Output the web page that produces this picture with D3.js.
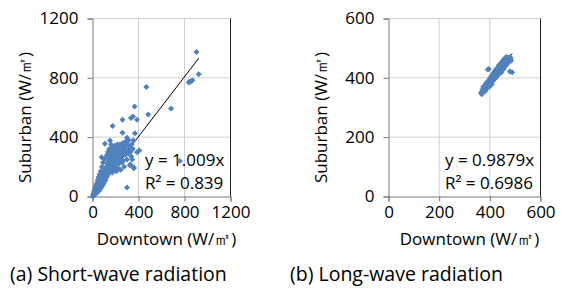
<!DOCTYPE html>
<html>
<head>
<meta charset="utf-8">
<script src="https://cdn.jsdelivr.net/npm/d3@7"></script>
<style>
  body { margin: 0; background: #fff; }
  text { font-family: "Open Sans", "Noto Sans", sans-serif; fill: #000; }
</style>
</head>
<body>
<svg id="chart" width="568" height="298"></svg>
<script>
// Short-wave radiation: [downtown, suburban] in W/m2
const shortWavePoints = [
  [2,0],[5,10],[8,4],[10,20],[12,30],[15,8],[18,45],[20,15],[22,60],[25,30],[28,20],[30,75],
  [32,50],[35,35],[38,90],[40,25],[42,65],[45,110],[48,45],[50,80],[52,130],[55,60],[58,95],
  [60,40],[62,150],[65,75],[68,115],[70,55],[72,170],[75,90],[78,135],[79,265],[80,65],[82,200],
  [85,105],[88,150],[90,80],[92,230],[95,120],[98,170],[100,95],[102,250],[105,140],[108,355],
  [110,185],[112,110],[115,260],[118,160],[120,200],[122,130],[125,280],[128,175],[130,220],
  [132,145],[135,300],[138,190],[140,240],[142,160],[145,320],[148,205],[150,260],[152,378],
  [155,180],[158,230],[160,280],[162,350],[165,200],[168,300],[170,245],[172,160],[175,330],
  [175,476],[178,260],[180,215],[182,180],[185,310],[188,270],[190,230],[192,340],[195,200],
  [198,290],[200,250],[205,320],[208,170],[210,280],[212,230],[215,350],[218,300],[220,190],
  [225,260],[228,330],[230,220],[235,300],[238,350],[240,250],[245,180],[248,320],[250,280],
  [255,340],[258,230],[261,429],[261,517],[262,300],[265,360],[268,243],[272,320],[275,200],
  [280,340],[285,280],[290,370],[295,310],[300,250],[300,396],[300,60],[305,350],[310,290],
  [315,380],[320,330],[325,210],[329,216],[330,300],[334,530],[337,270],[340,350],[345,250],
  [350,320],[352,539],[355,380],[358,198],[360,191],[366,607],[369,427],[387,299],[387,517],
  [407,310],[468,739],[485,553],[683,593],[760,240],[837,770],[845,772],[852,776],[869,783],
  [904,975],[924,825]
];

// Long-wave radiation: [downtown, suburban] in W/m2
const longWavePoints = [
  [365,350],[368,345],[370,360],[372,352],[374,370],[376,358],[378,365],[380,372],[382,355],
  [384,380],[385,368],[387,362],[388,385],[390,375],[392,428],[393,370],[395,390],[396,430],
  [397,380],[399,395],[400,372],[402,400],[403,385],[405,392],[406,405],[408,378],[410,398],
  [411,412],[413,390],[415,405],[416,418],[418,395],[420,410],[421,425],[423,400],[425,415],
  [426,430],[428,405],[430,420],[431,435],[433,410],[435,428],[436,442],[438,418],[440,432],
  [441,447],[443,420],[445,438],[446,452],[448,428],[450,445],[451,458],[453,435],[455,450],
  [456,462],[458,440],[460,455],[461,468],[463,448],[465,460],[466,470],[468,452],[470,465],
  [472,458],[474,468],[476,462],[478,460],[479,421],[480,470],[482,465],[484,458],[488,419],
  [470,448],[462,440],[455,430],[445,418]
];

const shortWaveTicks = [0, 400, 800, 1200];
const longWaveTicks = [0, 200, 400, 600];
const shortWaveFit = { slope: 1.009, eq: "y = 1.009x", r2: "R² = 0.839" };
const longWaveFit = { slope: 0.9879, eq: "y = 0.9879x", r2: "R² = 0.6986" };

const svg = d3.select("#chart");
const markerColor = "#4f81bd";

// Draw one scatter panel with gridlines, axes, trend line and labels
function drawPanel(opts) {
  const { points, ticks, fit, left, right, top, bottom, eqX, caption, captionX } = opts;
  const maxV = ticks[ticks.length - 1];
  const x = d3.scaleLinear().domain([0, maxV]).range([left, right]);
  const y = d3.scaleLinear().domain([0, maxV]).range([bottom, top]);
  const g = svg.append("g");

  // gridlines
  g.selectAll(".gx").data(ticks.slice(1)).enter().append("line")
    .attr("x1", d => x(d)).attr("x2", d => x(d))
    .attr("y1", top).attr("y2", bottom)
    .attr("stroke", "#d0d0d0").attr("stroke-width", 1);
  g.selectAll(".gy").data(ticks.slice(1)).enter().append("line")
    .attr("x1", left).attr("x2", right)
    .attr("y1", d => y(d)).attr("y2", d => y(d))
    .attr("stroke", "#d0d0d0").attr("stroke-width", 1);

  // right border
  g.append("line").attr("x1", right).attr("x2", right)
    .attr("y1", top).attr("y2", bottom)
    .attr("stroke", "#222").attr("stroke-width", 1);

  // axes
  const fmt = d3.format("d");
  const xAxis = d3.axisBottom(x).tickValues(ticks).tickFormat(fmt).tickSize(5).tickPadding(4);
  const yAxis = d3.axisLeft(y).tickValues(ticks).tickFormat(fmt).tickSize(5).tickPadding(9);
  const gx = g.append("g").attr("transform", `translate(0,${bottom})`).call(xAxis);
  const gy = g.append("g").attr("transform", `translate(${left},0)`).call(yAxis);
  [gx, gy].forEach(a => {
    a.select(".domain").attr("stroke", "#777");
    a.selectAll(".tick line").attr("stroke", "#777");
    a.selectAll("text").style("font-size", "17px").attr("fill", "#000")
      .style("font-family", "'Open Sans', sans-serif");
  });

  // axis titles
  g.append("text")
    .attr("x", (left + right) / 2 + 5).attr("y", 245)
    .attr("text-anchor", "middle").style("font-size", "17px")
    .text("Downtown (W/㎡)");
  g.append("text")
    .attr("transform", `translate(${left - 62},${(top + bottom) / 2 + 10}) rotate(-90)`)
    .attr("text-anchor", "middle").style("font-size", "17px")
    .text("Suburban (W/㎡)");

  // trend line
  const xs = d3.extent(points, d => d[0]);
  const x0 = opts.fitFromZero ? 0 : xs[0];
  g.append("line")
    .attr("x1", x(x0)).attr("y1", y(fit.slope * x0))
    .attr("x2", x(xs[1])).attr("y2", y(fit.slope * xs[1]))
    .attr("stroke", "#000").attr("stroke-width", 1);

  // equation labels
  g.append("text").attr("x", eqX).attr("y", 166).style("font-size", "17px").text(fit.eq);
  g.append("text").attr("x", eqX).attr("y", 189).style("font-size", "17px").text(fit.r2);

  // points
  const diamond = d3.symbol(d3.symbolSquare, 18);
  g.selectAll(".pt").data(points).enter().append("path")
    .attr("d", diamond)
    .attr("transform", d => `translate(${x(d[0])},${y(d[1])}) rotate(45)`)
    .attr("fill", markerColor);

  // caption
  g.append("text").attr("x", captionX).attr("y", 281)
    .style("font-size", "19.5px").text(caption);
}

drawPanel({
  points: shortWavePoints, ticks: shortWaveTicks, fit: shortWaveFit,
  left: 92.5, right: 230.5, top: 18.5, bottom: 196.5, eqX: 145,
  fitFromZero: true, caption: "(a) Short-wave radiation", captionX: 10
});
drawPanel({
  points: longWavePoints, ticks: longWaveTicks, fit: longWaveFit,
  left: 388.5, right: 540.5, top: 18.5, bottom: 196.5, eqX: 445,
  fitFromZero: false, caption: "(b) Long-wave radiation", captionX: 290
});
</script>
</body>
</html>
